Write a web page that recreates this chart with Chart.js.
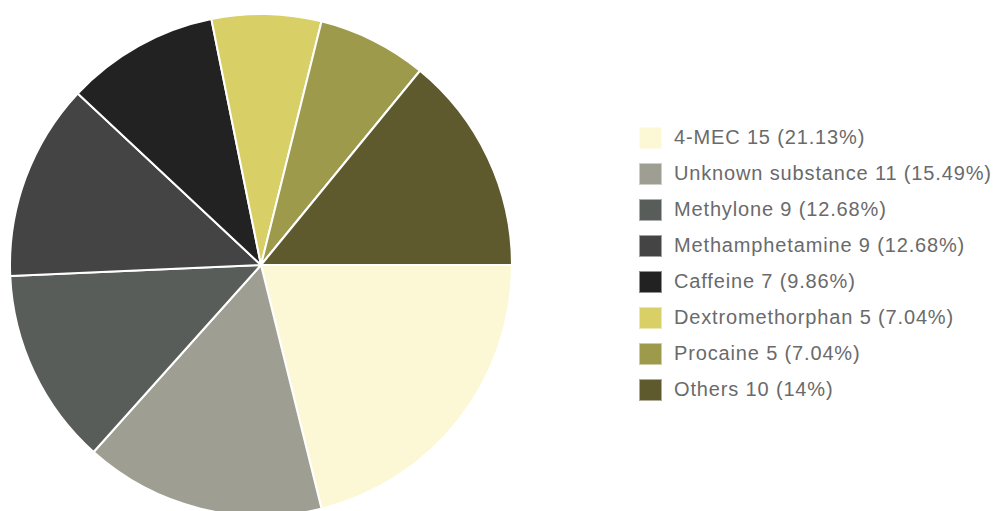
<!DOCTYPE html>
<html>
<head>
<meta charset="utf-8">
<script src="https://cdn.jsdelivr.net/npm/chart.js@4/dist/chart.umd.min.js"></script>
<style>
  html, body { margin: 0; padding: 0; background: #ffffff; width: 999px; height: 511px; overflow: hidden; }
  #pieWrap { position: absolute; left: 9px; top: 13px; width: 504px; height: 504px; }
  #legend { position: absolute; left: 639px; top: 127px; font-family: "Liberation Sans", Arial, sans-serif; font-size: 20px; letter-spacing: 0.85px; color: #6a6a6a; }
  .row { height: 36px; display: flex; align-items: flex-start; white-space: nowrap; }
  .box { width: 23px; height: 22px; box-sizing: border-box; border: 1px solid rgba(255,255,255,0.5); margin-right: 12px; flex: none; }
  .txt { line-height: 21px; }
</style>
</head>
<body>
<div id="pieWrap"><canvas id="pie" width="504" height="504"></canvas></div>
<div id="legend"></div>
<script>
// Substances found in tested samples
const substances = ["4-MEC", "Unknown substance", "Methylone", "Methamphetamine", "Caffeine", "Dextromethorphan", "Procaine", "Others"];
const counts = [15, 11, 9, 9, 7, 5, 5, 10];
const shares = ["21.13%", "15.49%", "12.68%", "12.68%", "9.86%", "7.04%", "7.04%", "14%"];
const sliceColors = ["#fcf7d4", "#9e9e92", "#595d5a", "#444444", "#222222", "#d8d066", "#9e9a4c", "#5f5a2e"];

new Chart(document.getElementById("pie"), {
  type: "pie",
  data: {
    labels: substances,
    datasets: [{
      data: counts,
      backgroundColor: sliceColors,
      borderColor: "#ffffff",
      borderWidth: 2
    }]
  },
  options: {
    responsive: false,
    animation: false,
    rotation: 90,
    layout: { padding: 0 },
    plugins: { legend: { display: false }, tooltip: { enabled: false } }
  }
});

// Legend list
const legend = document.getElementById("legend");
substances.forEach((name, i) => {
  const row = document.createElement("div");
  row.className = "row";
  const box = document.createElement("div");
  box.className = "box";
  box.style.background = sliceColors[i];
  const txt = document.createElement("div");
  txt.className = "txt";
  txt.textContent = name + " " + counts[i] + " (" + shares[i] + ")";
  row.appendChild(box);
  row.appendChild(txt);
  legend.appendChild(row);
});
</script>
</body>
</html>
